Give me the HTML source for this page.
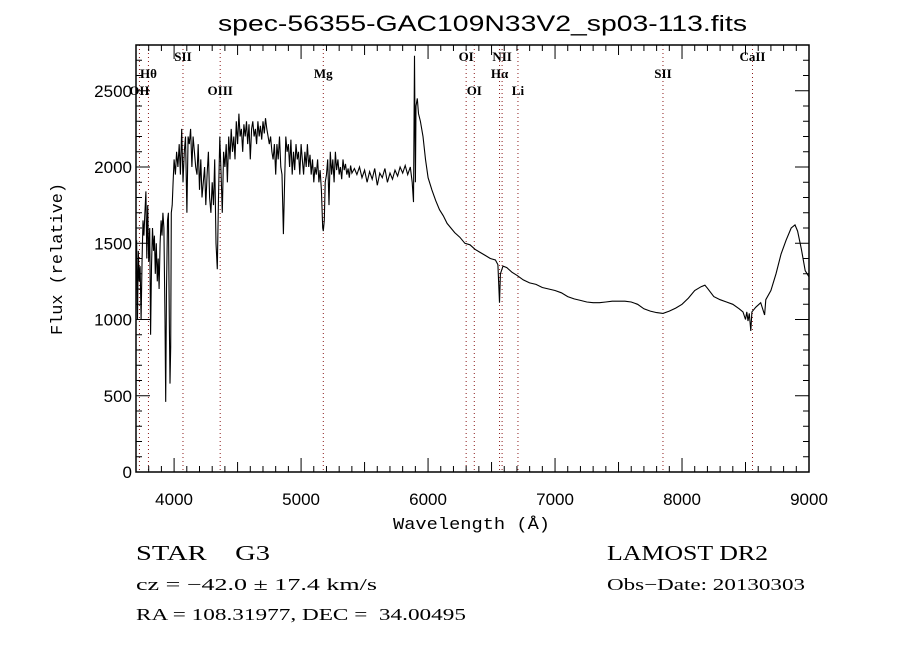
<!DOCTYPE html>
<html><head><meta charset="utf-8"><style>
html,body{margin:0;padding:0;background:#fff;}
svg{display:block;}
text{fill:#000;white-space:pre;}
.tk{font-family:"Liberation Sans",sans-serif;font-size:17px;}
.ln{font-family:"Liberation Serif",serif;font-size:13px;}
.info{font-family:"Liberation Serif",serif;}
</style></head><body>
<svg id="chart" width="900" height="650" viewBox="0 0 900 650">
<text x="218" y="31" textLength="529" lengthAdjust="spacingAndGlyphs" font-family="Liberation Sans, sans-serif" font-size="22">spec-56355-GAC109N33V2_sp03-113.fits</text>
<text transform="translate(62,335) rotate(-90)" textLength="152" lengthAdjust="spacingAndGlyphs" font-family="Liberation Mono, monospace" font-size="17">Flux (relative)</text>
<text x="393" y="529" textLength="157" lengthAdjust="spacingAndGlyphs" font-family="Liberation Mono, monospace" font-size="17">Wavelength (Å)</text>
<g id="lines"></g>
<g id="axes"></g>
<polyline id="spec" fill="none" stroke="#000" stroke-width="1.1"/>
<rect x="136" y="45" width="673" height="427" fill="none" stroke="#000" stroke-width="1.5"/>
<text class="info" x="136" y="560" font-size="21" textLength="134" lengthAdjust="spacingAndGlyphs" xml:space="preserve">STAR    G3</text>
<text class="info" x="136" y="590" font-size="17" textLength="241" lengthAdjust="spacingAndGlyphs">cz = −42.0 ± 17.4 km/s</text>
<text class="info" x="136" y="620" font-size="17" textLength="330" lengthAdjust="spacingAndGlyphs" xml:space="preserve">RA = 108.31977, DEC =  34.00495</text>
<text class="info" x="607" y="560" font-size="21" textLength="161" lengthAdjust="spacingAndGlyphs">LAMOST DR2</text>
<text class="info" x="607" y="590" font-size="17" textLength="198" lengthAdjust="spacingAndGlyphs">Obs−Date: 20130303</text>
</svg>
<script>
const wavelengths=[3700,3705,3712,3718,3725,3732,3740,3748,3755,3762,3770,3778,3785,3792,3800,3808,3815,3822,3830,3838,3845,3852,3860,3868,3875,3882,3890,3898,3905,3912,3920,3928,3934,3940,3948,3955,3962,3968,3973,3978,3985,3992,4000,
4010,4020,4030,4040,4050,4060,4070,4080,4090,4101,4110,4120,4130,4140,4150,4160,4170,4180,4190,4200,4210,4220,4230,4240,4250,4260,4270,4280,4290,4300,4310,4320,4330,4340,4350,4360,4370,4380,4390,4400,4410,4420,4430,4440,4450,4460,4470,4480,4490,4500,4510,4520,4530,4540,4550,4560,4570,4580,4590,4600,4610,4620,4630,4640,4650,4660,4670,4680,4690,4700,4710,4720,4730,4740,4750,4760,4770,4780,4790,4800,4810,4820,4830,4840,4850,4861,4870,4880,4890,4900,4910,4920,4930,4940,4950,4960,4970,4980,4990,5000,5010,5020,5030,5040,5050,5060,5070,5080,5090,5100,5110,5120,5130,5140,5150,5160,5170,5175,5183,5190,5200,5210,5220,5230,5240,5250,5260,5270,5280,5290,5300,5310,5320,5330,5340,5350,5360,5370,5380,5390,5400,5420,5440,5460,5480,5500,5520,5540,5560,5580,5600,5620,5640,5660,5680,5700,5720,5740,5760,5780,5800,5820,5840,5860,5875,5885,5893,5900,5905,5915,5925,5940,5960,5980,6000,6030,6060,6090,6120,6150,6180,6210,6250,6290,6330,6370,6410,6450,6490,6530,6550,6563,6570,6590,6620,6660,6700,6750,6800,6850,6900,6950,7000,7050,7100,7150,7200,7250,7300,7350,7400,7450,7500,7550,7600,7650,7700,7750,7800,7850,7900,7950,8000,8050,8100,8150,8180,8200,8250,8300,8350,8400,8450,8480,8500,8510,8520,8530,8542,8550,8580,8620,8650,8660,8700,8740,8780,8820,8860,8890,8910,8940,8970,9000];
const fluxes=[1300,1520,1000,1450,1250,1350,1000,1400,1650,1550,1700,1840,1400,1750,1380,1600,900,1350,1600,1450,1550,1300,1500,1250,1400,1200,1500,1650,1550,1700,1600,1000,460,1200,1650,1700,1000,580,820,1700,1750,1900,2050,
1950,2100,2000,2150,1950,2250,1900,2100,2200,1700,2200,2150,2250,2000,2200,2100,2000,1950,2150,1850,2050,1800,1900,2000,1750,1950,2100,1800,1700,1900,1750,2050,1500,1330,1800,2200,1950,1700,2100,2000,2150,1900,2200,2050,2250,2100,2200,2050,2300,2150,2350,2200,2250,2100,2280,2200,2300,2150,2280,2050,2250,2300,2200,2250,2150,2300,2200,2270,2180,2300,2220,2320,2250,2200,2150,2200,2100,2050,2150,1950,2150,2050,2200,2000,1950,1560,1900,2200,2100,2150,2000,2180,1950,2100,1980,2150,2050,2100,1950,2150,2050,1950,2100,2000,2150,2000,2080,1950,2050,1900,2000,1950,2050,1900,1980,1850,1600,1580,1650,1900,1950,2050,1750,2100,1950,2050,1900,2100,1980,2050,1950,2000,1920,2050,1980,2020,1950,1990,1930,2010,1960,1990,1950,2000,1930,1980,1900,1970,1920,1990,1880,1960,1930,1990,1900,1960,1920,1980,1940,2000,1960,2010,1950,2000,1900,1770,2730,1900,2400,2450,2350,2300,2200,2050,1930,1850,1780,1720,1680,1630,1600,1570,1540,1500,1490,1460,1440,1420,1400,1390,1360,1110,1300,1350,1340,1310,1290,1260,1240,1230,1210,1200,1190,1175,1150,1135,1125,1115,1110,1110,1115,1120,1120,1120,1115,1100,1070,1055,1045,1040,1055,1075,1100,1140,1190,1215,1225,1205,1150,1130,1115,1100,1070,1050,1000,1050,990,1040,925,1050,1080,1110,1030,1130,1190,1300,1430,1520,1600,1620,1580,1460,1320,1280];
const xTicks=[4000,5000,6000,7000,8000,9000];
const yTicks=[0,500,1000,1500,2000,2500];
const lineNames=["OII","H\u03b8","SII","OIII","Mg","OI","OI","H\u03b1","NII","Li","SII","CaII"];
const lineWaves=[3727,3798,4070,4363,5175,6300,6364,6563,6583,6708,7850,8555];
const lineRows=[2,1,0,2,1,0,2,1,0,2,1,0];

const X0=136,X1=809,Y0=472,Y1=45,WMIN=3700,WMAX=9000,FMAX=2800;
function sx(w){return X0+(w-WMIN)*(X1-X0)/(WMAX-WMIN);}
function sy(f){return Y0-f*(Y0-Y1)/FMAX;}
const NS="http://www.w3.org/2000/svg";
function mk(tag,attrs,parent){const e=document.createElementNS(NS,tag);for(const k in attrs)e.setAttribute(k,attrs[k]);parent.appendChild(e);return e;}

const pts=wavelengths.map((w,i)=>sx(w).toFixed(1)+","+sy(fluxes[i]).toFixed(1)).join(" ");
document.getElementById("spec").setAttribute("points",pts);

const ax=document.getElementById("axes");
for(let w=3700;w<=9000;w+=100){
  const big=w%1000===0, mid=w%500===0;
  const L=big?14:(mid?10:6);
  const t1=mk("line",{x1:sx(w),x2:sx(w),y1:Y0,y2:Y0-L,stroke:"#000","stroke-width":1},ax);
  
  
  const t2=mk("line",{x1:sx(w),x2:sx(w),y1:Y1,y2:Y1+L,stroke:"#000","stroke-width":1},ax);
  
  
}
xTicks.forEach(v=>{
  const t=mk("text",{x:sx(v),y:505,"text-anchor":"middle",class:"tk"},ax);
  t.textContent=v;
  
  
});
for(let f=0;f<=2800;f+=100){
  const big=f%500===0;
  const L=big?14:6;
  const t1=mk("line",{x1:X0,x2:X0+L,y1:sy(f),y2:sy(f),stroke:"#000","stroke-width":1},ax);
  
  
  const t2=mk("line",{x1:X1,x2:X1-L,y1:sy(f),y2:sy(f),stroke:"#000","stroke-width":1},ax);
  
  
}
yTicks.forEach(v=>{
  const t=mk("text",{x:132,y:sy(v)+6,"text-anchor":"end",class:"tk"},ax);
  t.textContent=v;
  
  
});

const lg=document.getElementById("lines");
lineWaves.forEach((w,i)=>{
  const l=mk("line",{x1:sx(w),x2:sx(w),y1:Y1,y2:Y0,stroke:"#8b1a1a","stroke-width":1,"stroke-dasharray":"1,3"},lg);
  
  
  const t=mk("text",{x:sx(w),y:61+lineRows[i]*17,"text-anchor":"middle",class:"ln","font-weight":"bold"},lg);
  t.textContent=lineNames[i];
  
  
});
</script>
</body></html>
